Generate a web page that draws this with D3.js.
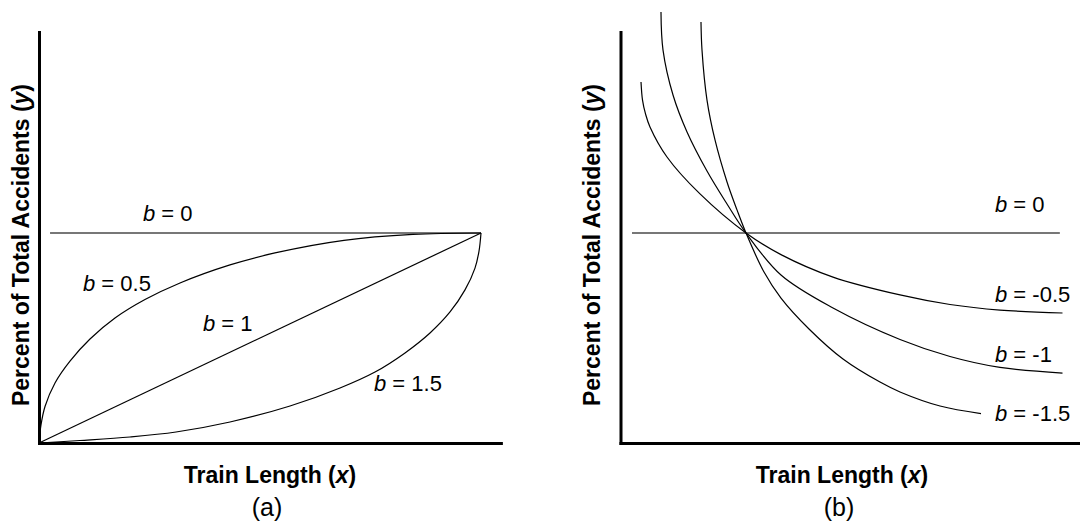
<!DOCTYPE html>
<html><head><meta charset="utf-8">
<script src="https://cdn.jsdelivr.net/npm/d3@7"></script>
<style>
html,body{margin:0;padding:0;background:#fff;}
svg{display:block;}
text{font-family:"Liberation Sans",Arial,Helvetica,sans-serif;fill:#000;}
</style></head><body>
<svg id="chart" width="1080" height="525"></svg>
<script>
// ---------- data ----------
const panelLabels = ["(a)", "(b)"];
const xTitle = "Train Length";
const xVar = "x";
const yTitle = "Percent of Total Accidents";
const yVar = "y";
// b exponents shown in each panel
const bLabelsA = ["0", "0.5", "1", "1.5"];
const bLabelsB = ["0", "-0.5", "-1", "-1.5"];
// points: [train length (relative, 0-100), percent of accidents (relative, b=0 level = 100)]
const a_b0   = [[2.5,100],[100,100]];
const a_b05  = [[0,0],[0.45,8.6],[1.36,17.4],[3.62,28.6],[7.01,39.0],[11.54,49.5],[17.19,59.5],[23.98,68.3],[31.9,76.2],[43.21,84.8],[53.39,90.5],[69.0,96.5],[84.6,99.3],[100,100]];
const a_b1   = [[0,0],[100,100]];
const a_b15  = [[0,0],[9.28,1.19],[20.59,2.86],[31.0,5.24],[43.21,10.0],[56.79,17.6],[68.1,26.2],[76.02,33.8],[82.81,42.9],[88.46,52.4],[92.99,62.4],[96.38,72.9],[98.64,83.3],[99.55,91.4],[100,100]];
const b_b0   = [[2.6,100],[99.4,100]];
const b_bm05 = [[4.64,171.9],[4.98,163.3],[5.66,156.7],[6.67,150.5],[10.52,136.2],[17.99,118.6],[28.39,100],[36.31,89.7],[48.08,79.0],[63.24,70.5],[74.55,65.95],[85.86,63.3],[100,61.9]];
const b_bm1  = [[9.16,205.2],[9.62,187.1],[11.88,165.7],[15.05,148.1],[19.57,129.5],[24.10,113.8],[28.39,100],[36.31,80.0],[48.08,64.3],[63.24,49.3],[74.55,41.2],[85.86,36.0],[100,33.3]];
const b_bm15 = [[18.21,200.5],[18.44,187.1],[19.57,163.3],[21.38,144.3],[24.10,124.3],[26.36,111.0],[28.39,100],[32.47,81.4],[36.31,69.0],[42.65,54.3],[50.34,40.0],[58.71,29.0],[63.24,24.3],[72.29,17.6],[81.56,14.0]];
const xAxisEnd = [104.5, 104];
const yAxisEnd = 195.7;

// ---------- layout ----------
const svg = d3.select("#chart");
const y = d3.scaleLinear().domain([0,100]).range([443, 233]);
const lineGen = (x) => d3.line().x(d => x(d[0])).y(d => y(d[1])).curve(d3.curveCatmullRom.alpha(0.5));

const panels = [
  { x0: 39, series: [a_b0, a_b05, a_b1, a_b15], labels: bLabelsA,
    labelPos: [[143,221],[83,291],[203,331],[374,391]],
    titleX: 270, yTitleX: 29, panel: panelLabels[0], axisEnd: xAxisEnd[0] },
  { x0: 620.5, series: [b_b0, b_bm05, b_bm1, b_bm15], labels: bLabelsB,
    labelPos: [[995,212],[995,302],[995,362],[995,421]],
    titleX: 842, yTitleX: 600, panel: panelLabels[1], axisEnd: xAxisEnd[1] }
];

panels.forEach(p => {
  const x = d3.scaleLinear().domain([0,100]).range([p.x0, p.x0 + 442]);
  const g = svg.append("g");

  // axes (no ticks, thick domain lines)
  const xa = x.copy().domain([0, p.axisEnd]).range([p.x0, x(p.axisEnd)]);
  const ya = y.copy().domain([0, yAxisEnd]).range([y(0), y(yAxisEnd)]);
  g.append("g").attr("transform", `translate(0,${y(0)})`)
    .call(d3.axisBottom(xa).tickValues([]).tickSizeOuter(0));
  g.append("g").attr("transform", `translate(${p.x0},0)`)
    .call(d3.axisLeft(ya).tickValues([]).tickSizeOuter(0));
  g.selectAll(".domain").attr("stroke", "#000").attr("stroke-width", 3).attr("stroke-linecap", "square");

  // curves
  p.series.forEach((s, i) => {
    g.append("path").datum(s)
      .attr("d", lineGen(x))
      .attr("fill", "none")
      .attr("stroke", i === 0 ? "#4a4a4a" : "#000")
      .attr("stroke-width", i === 0 ? 1.6 : 1.2);
  });

  // b labels
  p.labels.forEach((lab, i) => {
    const t = g.append("text").attr("x", p.labelPos[i][0]).attr("y", p.labelPos[i][1])
      .attr("font-size", 22);
    t.append("tspan").attr("font-style", "italic").text("b");
    t.append("tspan").text(" = " + lab);
  });

  // x title
  const xt = g.append("text").attr("x", p.titleX).attr("y", 483)
    .attr("text-anchor", "middle").attr("font-size", 23).attr("font-weight", "bold");
  xt.append("tspan").text(xTitle + " (");
  xt.append("tspan").attr("font-style", "italic").text(xVar);
  xt.append("tspan").text(")");

  // panel letter
  g.append("text").attr("x", p.titleX - 3).attr("y", 516)
    .attr("text-anchor", "middle").attr("font-size", 25).text(p.panel);

  // y title
  const yt = g.append("text").attr("transform", `translate(${p.yTitleX},245) rotate(-90)`)
    .attr("text-anchor", "middle").attr("font-size", 23).attr("font-weight", "bold");
  yt.append("tspan").text(yTitle + " (");
  yt.append("tspan").attr("font-style", "italic").text(yVar);
  yt.append("tspan").text(")");
});
</script>
</body></html>
